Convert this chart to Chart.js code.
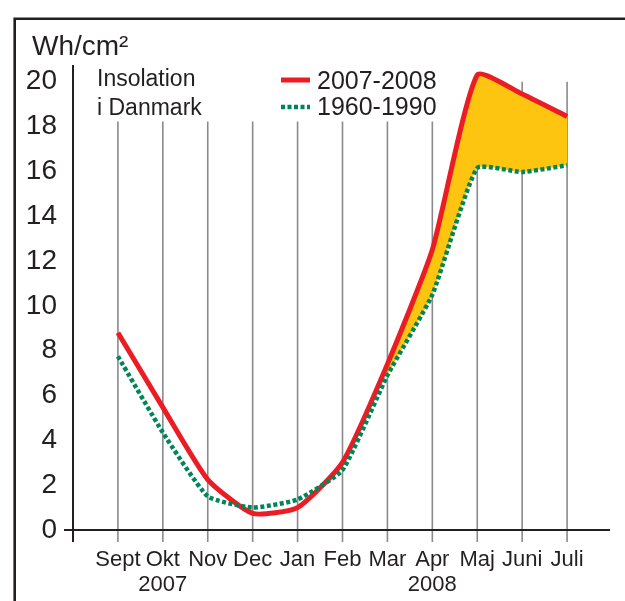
<!DOCTYPE html>
<html>
<head>
<meta charset="utf-8">
<script src="https://cdn.jsdelivr.net/npm/chart.js@4/dist/chart.umd.min.js"></script>
<style>
  html, body { margin: 0; padding: 0; background: #ffffff; }
  #wrap { width: 625px; height: 601px; position: relative; }
</style>
</head>
<body>
<div id="wrap"><canvas id="c" width="625" height="601"></canvas></div>
<script>
// ---- data ----
const months = ['Sept', 'Okt', 'Nov', 'Dec', 'Jan', 'Feb', 'Mar', 'Apr', 'Maj', 'Juni', 'Juli'];
const yearUnderMonth = ['', '2007', '', '', '', '', '', '2008', '', '', ''];
const insolation2007_2008 = [8.8, 5.47, 2.25, 0.74, 1.0, 3.02, 7.4, 12.5, 20.3, 19.45, 18.45];
const insolation1960_1990 = [7.75, 4.35, 1.5, 1.0, 1.36, 2.68, 6.9, 10.5, 16.15, 15.97, 16.27];
const yTickValues = [0, 2, 4, 6, 8, 10, 12, 14, 16, 18, 20];
const fillFromMonth = 'Mar';
const unitLabel = 'Wh/cm²';
const noteLines = ['Insolation', 'i Danmark'];
const seriesNames = ['2007-2008', '1960-1990'];

// ---- build datasets ----
const toPoints = arr => arr.map((v, i) => ({ x: i, y: v }));
const fillStartIdx = months.indexOf(fillFromMonth);
const fillPoints = insolation2007_2008.map((v, i) => ({ x: i, y: i >= fillStartIdx ? v : null }));

const RED = '#ec1c24', GREEN = '#00855a', YELLOW = '#fdc50f', INK = '#231f20', GRID = '#8a8a8a';
const FONT = '"Liberation Sans", Arial, Helvetica, sans-serif';

const decor = {
  id: 'decor',
  beforeDraw(chart) {
    const ctx = chart.ctx, xs = chart.scales.x, ys = chart.scales.y;
    ctx.save();
    ctx.fillStyle = '#ffffff';
    ctx.fillRect(0, 0, chart.width, chart.height);
    // frame
    ctx.strokeStyle = INK; ctx.lineWidth = 2.6; ctx.lineCap = 'butt';
    ctx.beginPath();
    ctx.moveTo(14.7, chart.height); ctx.lineTo(14.7, 18.7); ctx.lineTo(chart.width, 18.7);
    ctx.stroke();
    // vertical month lines
    const y0 = ys.getPixelForValue(0);
    ctx.strokeStyle = GRID; ctx.lineWidth = 1.6;
    months.forEach((m, i) => {
      const px = xs.getPixelForValue(i);
      const top = i >= 8 ? ys.getPixelForValue(20) : ys.getPixelForValue(18.22);
      ctx.beginPath(); ctx.moveTo(px, top); ctx.lineTo(px, y0 + 12); ctx.stroke();
    });
    // axes
    const ax = xs.getPixelForValue(-1);
    ctx.strokeStyle = INK; ctx.lineWidth = 2;
    ctx.beginPath(); ctx.moveTo(ax, chart.chartArea.top - 1); ctx.lineTo(ax, y0 + 12); ctx.stroke();
    ctx.beginPath(); ctx.moveTo(ax - 9, y0); ctx.lineTo(chart.chartArea.right - 2, y0); ctx.stroke();
    ctx.restore();
  },
  afterDraw(chart) {
    const ctx = chart.ctx;
    ctx.save();
    ctx.fillStyle = INK;
    ctx.textAlign = 'left'; ctx.textBaseline = 'alphabetic';
    ctx.font = '28px ' + FONT;
    ctx.fillText(unitLabel, 32, 55);
    ctx.font = '23px ' + FONT;
    ctx.fillText(noteLines[0], 97, 86);
    ctx.fillText(noteLines[1], 97, 115);
    // legend
    ctx.font = '25px ' + FONT;
    ctx.fillText(seriesNames[0], 317, 89);
    ctx.fillText(seriesNames[1], 317, 115);
    ctx.strokeStyle = RED; ctx.lineWidth = 5;
    ctx.beginPath(); ctx.moveTo(281, 80); ctx.lineTo(310, 80); ctx.stroke();
    ctx.strokeStyle = GREEN; ctx.lineWidth = 4.5; ctx.setLineDash([4, 2.5]);
    ctx.beginPath(); ctx.moveTo(281, 107); ctx.lineTo(310, 107); ctx.stroke();
    ctx.restore();
  }
};

new Chart(document.getElementById('c'), {
  type: 'line',
  data: {
    datasets: [
      {
        label: seriesNames[1],
        data: toPoints(insolation1960_1990),
        borderColor: GREEN, borderWidth: 4.5, borderDash: [4, 2.5],
        pointRadius: 0, tension: 0.15, fill: false, order: 0
      },
      {
        label: seriesNames[0],
        data: toPoints(insolation2007_2008),
        borderColor: RED, borderWidth: 5, borderJoinStyle: 'round', borderCapStyle: 'butt',
        pointRadius: 0, tension: 0.18, fill: false, order: 1
      },
      {
        label: 'fill',
        data: fillPoints,
        borderColor: 'rgba(0,0,0,0)', borderWidth: 0, backgroundColor: YELLOW,
        pointRadius: 0, tension: 0.18, spanGaps: false,
        fill: { target: 0, above: YELLOW, below: YELLOW }, order: 2
      }
    ]
  },
  options: {
    responsive: false,
    animation: false,
    events: [],
    layout: { padding: { left: 0, top: 66, right: 13, bottom: 0 } },
    plugins: { legend: { display: false }, tooltip: { enabled: false }, title: { display: false } },
    scales: {
      x: {
        type: 'linear', min: -1, max: 11,
        grid: { display: false, drawTicks: false }, border: { display: false },
        afterBuildTicks: s => { s.ticks = months.map((m, i) => ({ value: i })); },
        afterFit: s => { s.height = 71; },
        ticks: {
          autoSkip: false, maxRotation: 0, minRotation: 0, padding: 17,
          color: INK, font: { family: FONT, size: 22, lineHeight: 1.15 },
          callback: v => {
            const i = Math.round(v);
            if (i < 0 || i >= months.length) return '';
            return yearUnderMonth[i] ? [months[i], yearUnderMonth[i]] : months[i];
          }
        }
      },
      y: {
        type: 'linear', min: 0, max: 20.7,
        grid: { display: false, drawTicks: false }, border: { display: false },
        afterBuildTicks: s => { s.ticks = yTickValues.map(v => ({ value: v })); },
        afterFit: s => { s.width = 73; },
        ticks: { padding: 16, color: INK, font: { family: FONT, size: 28, lineHeight: 1.2 } }
      }
    }
  },
  plugins: [decor]
});
</script>
</body>
</html>
